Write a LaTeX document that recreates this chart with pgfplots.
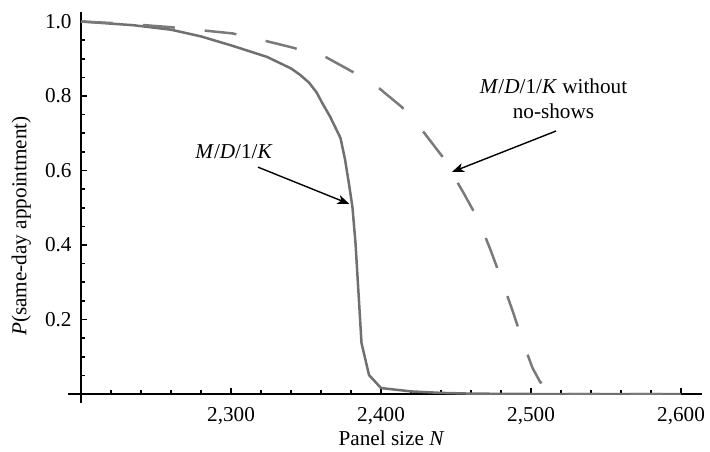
\documentclass[border=0pt]{standalone}
\usepackage{fontspec}
\setmainfont{Liberation Serif}
\usepackage{pgfplots}
\pgfplotsset{compat=1.18}
\usetikzlibrary{arrows.meta}

\definecolor{curvegray}{RGB}{112,112,112}
\definecolor{dashgray}{RGB}{122,122,122}

% P(same-day appointment) for the M/D/1/K model
\pgfplotstableread{
N     P
2200  1.000
2235  0.990
2260  0.978
2280  0.960
2300  0.936
2324  0.905
2340  0.874
2346  0.857
2352  0.836
2357  0.810
2361  0.780
2366  0.745
2370  0.712
2373  0.687
2376  0.630
2379  0.555
2381  0.500
2383  0.405
2387  0.137
2392  0.051
2400  0.016
2420  0.007
2440  0.003
2460  0.001
2500  0.000
2600  0.000
}\mdk

% the same model without no-shows
\pgfplotstableread{
N     P
2200  1.000
2230  0.994
2259  0.985
2279  0.977
2301  0.968
2321  0.950
2341  0.930
2363  0.905
2381  0.865
2399  0.820
2414  0.770
2429  0.700
2441  0.637
2455  0.540
2465  0.467
2473  0.387
2481  0.300
2488  0.220
2495  0.135
2501  0.070
2506  0.033
2511  0.012
2516  0.002
2525  0.000
2600  0.000
}\mdknoshow

\newcommand\labelfont{\fontsize{10.6}{12.7}\selectfont}

\begin{document}
\begin{tikzpicture}
\begin{axis}[
  scale only axis,
  width=310.5pt, height=191pt,
  xmin=2200, xmax=2614,
  ymin=0, ymax=1.0255,
  axis lines=left,
  axis line style={line width=0.9pt, black},
  x axis line style={-, shorten <=-6.5pt},
  y axis line style={-, shorten <=-4.5pt},
  tick align=inside,
  major tick length=3.2pt,
  minor tick length=2.2pt,
  every tick/.style={black, line width=0.8pt},
  xtick={2300,2400,2500,2600},
  minor xtick={2220,2240,...,2600},
  ytick={0.2,0.4,0.6,0.8,1.0},
  minor ytick={0.05,0.10,...,1.0},
  /pgf/number format/assume math mode=true,
  x tick label style={/pgf/number format/1000 sep={,}, yshift=-3pt},
  y tick label style={/pgf/number format/.cd, fixed, fixed zerofill, precision=1, /tikz/.cd, xshift=-1.2pt},
  tick label style={font=\labelfont},
  xlabel={Panel size \textit{N}},
  ylabel={\textit{P}(same-day appointment)},
  label style={font=\labelfont},
  xlabel style={at={(axis description cs:0.5,-0.136)}, anchor=base},
  ylabel style={at={(axis description cs:-0.096,0.44)}, anchor=center},
]
\addplot[color=curvegray, line width=1.25pt, line join=round] table[x=N, y=P] {\mdk};
\addplot[color=dashgray, line width=1.25pt, line join=round,
         dash pattern=on 16pt off 15pt] table[x=N, y=P] {\mdknoshow};

\node[font=\labelfont] at (axis cs:2302,0.652)
  {\textit{M}/\textit{D}/1/\textit{K}};
\draw[line width=0.7pt, -{Stealth[length=6pt, width=4.5pt, inset=1.6pt]}]
  (axis cs:2318,0.609) -- (axis cs:2379,0.510);

\node[font=\labelfont, align=center] at (axis cs:2515,0.792)
  {\textit{M}/\textit{D}/1/\textit{K} without\\no-shows};
\draw[line width=0.7pt, -{Stealth[length=6pt, width=4.5pt, inset=1.6pt]}]
  (axis cs:2516.7,0.706) -- (axis cs:2447.3,0.596);
\end{axis}
\pgfresetboundingbox
\path (-40.5pt,-28.5pt) rectangle (314.5pt,197pt);
\end{tikzpicture}
\end{document}
